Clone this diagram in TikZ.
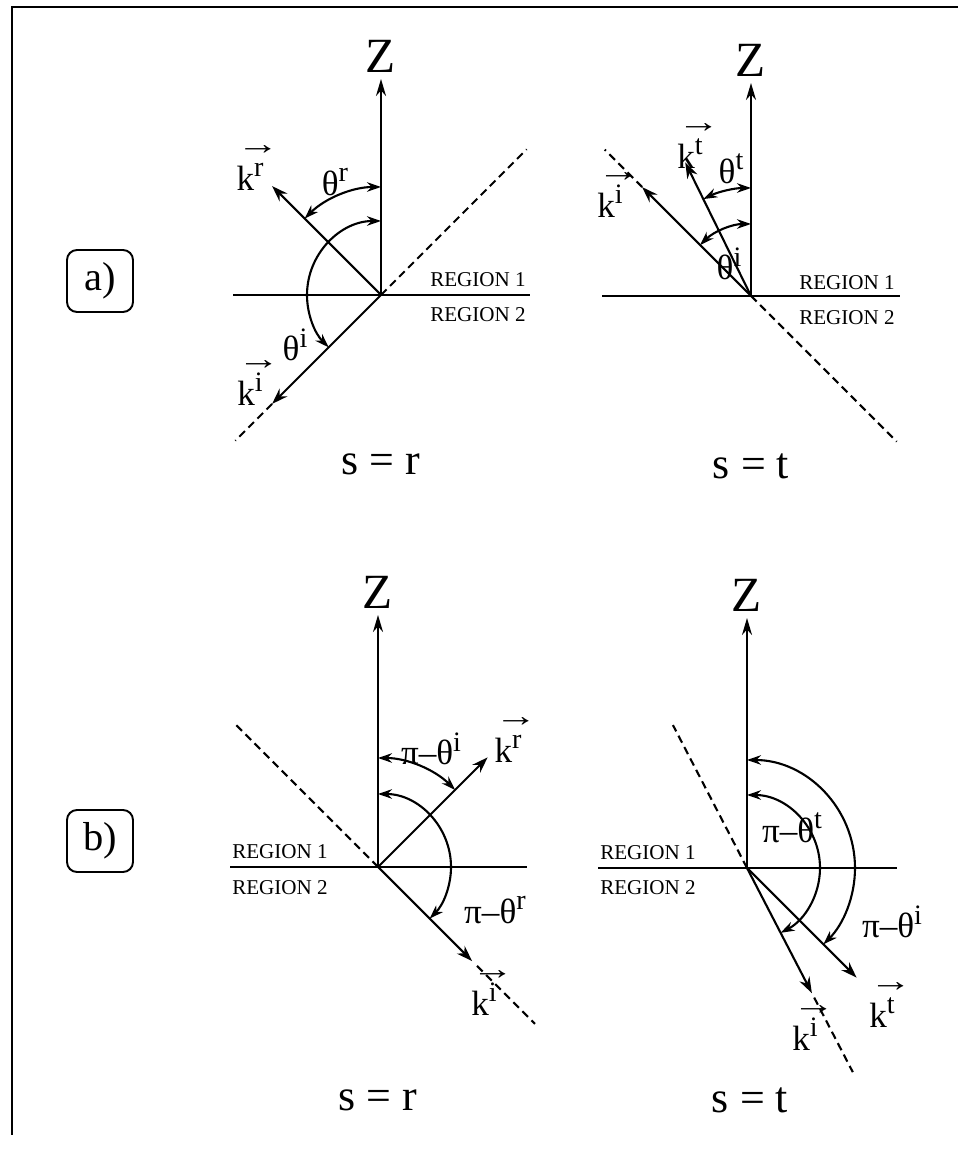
\documentclass[tikz,border=0pt]{standalone}
\usepackage{fontspec}
\setmainfont{Liberation Serif}
\usepackage{graphicx}
\usepackage{tikz}
\usetikzlibrary{arrows.meta, positioning}
\newcommand{\supx}[1]{\raisebox{0.85ex}{\fontsize{16}{16}\selectfont #1}}
\newcommand{\kvec}[1]{\makebox[0pt][l]{\raisebox{1.0em}{\scalebox{1.35}[1]{\fontsize{18}{18}\selectfont →}}}k\supx{#1}}
\tikzset{
  % Frame and labels
  framebox/.style={line width=1.6pt},
  partbox/.style={rectangle, rounded corners=2mm, draw=black, line width=1.1pt, minimum width=1.32cm, minimum height=1.24cm, text centered, font=\fontsize{23}{26}\selectfont},
  axislabel/.style={inner sep=0pt, font=\fontsize{28}{32}\selectfont},
  caselabel/.style={inner sep=0pt, font=\fontsize{25}{30}\selectfont},
  veclabel/.style={inner sep=0pt, font=\fontsize{20}{22}\selectfont},
  regionlabel/.style={inner sep=0pt, font=\fontsize{12}{14}\selectfont},
  % Lines
  surface/.style={line width=1.2pt},
  zaxis/.style={line width=1.2pt, -{Stealth[length=3.4mm, width=2mm]}},
  wavevec/.style={line width=1.2pt, -{Stealth[length=3.2mm, width=2.2mm]}},
  normalline/.style={line width=1.2pt, dash pattern=on 4.5pt off 2.8pt},
  anglearc/.style={line width=1.2pt, {Stealth[length=2.8mm, width=1.9mm]}-{Stealth[length=2.8mm, width=1.9mm]}},
}
\begin{document}
\begin{tikzpicture}[x=0.2mm, y=0.2mm]
    \useasboundingbox (0,0) rectangle (958,1152);

    % Frame
    \coordinate (fbl) at (12,17);
    \coordinate (ftl) at (12,1145);
    \coordinate (ftr) at (958,1145);
    \draw[framebox] (fbl) -- (ftl) -- (ftr);

    % Part labels
    \node[partbox] (parta) at (100,871) {a)};
    \node[partbox] (partb) at (100,311) {b)};

    % a) s = r
    \begin{scope}[shift={(381,857)}]
      \coordinate (oa) at (0,0);
      \coordinate (hla) at (-148,0);
      \coordinate (hra) at (149,0);
      \coordinate (za) at (0,216);
      \coordinate (dua) at (45:206);
      \coordinate (kra) at (135:154);
      \coordinate (kia) at (225:154);
      \coordinate (dla) at (225:206);
      \draw[surface] (hla) -- (hra);
      \draw[zaxis] (oa) -- (za);
      \draw[normalline] (oa) -- (dua);
      \draw[normalline] (kia) -- (dla);
      \draw[wavevec] (oa) -- (kra);
      \draw[wavevec] (oa) -- (kia);
      \coordinate (tra) at (90:108);
      \draw[anglearc] (tra) arc[start angle=90, end angle=135, radius=108];
      \coordinate (tia) at (90:74);
      \draw[anglearc] (tia) arc[start angle=90, end angle=225, radius=74];
      \node[axislabel, above=1.2mm of za] (zla) {Z};
      \node[veclabel] (lkra) at (-131,127) {\kvec{r}};
      \node[veclabel] (ltra) at (-46,113) {θ\supx{r}};
      \node[veclabel] (ltia) at (-86,-50) {θ\supx{i}};
      \node[veclabel] (lkia) at (-131,-88) {\kvec{i}};
      \node[regionlabel] (r1a) at (97,15) {REGION 1};
      \node[regionlabel] (r2a) at (97,-20) {REGION 2};
      \node[caselabel] (sa) at (0,-169) {s = r};
    \end{scope}

    % a) s = t
    \begin{scope}[shift={(751,856)}]
      \coordinate (ob) at (0,0);
      \coordinate (hlb) at (-149,0);
      \coordinate (hrb) at (149,0);
      \coordinate (zb) at (0,213);
      \coordinate (kib) at (135:154);
      \coordinate (dub) at (135:207);
      \coordinate (dlb) at (-45:206);
      \coordinate (ktb) at (116.2:149);
      \draw[surface] (hlb) -- (hrb);
      \draw[zaxis] (ob) -- (zb);
      \draw[normalline] (kib) -- (dub);
      \draw[normalline] (ob) -- (dlb);
      \draw[wavevec] (ob) -- (kib);
      \draw[wavevec] (ob) -- (ktb);
      \coordinate (ttb) at (90:108);
      \draw[anglearc] (ttb) arc[start angle=90, end angle=116.2, radius=108];
      \coordinate (tib) at (90:72);
      \draw[anglearc] (tib) arc[start angle=90, end angle=135, radius=72];
      \node[axislabel, above=1.2mm of zb] (zlb) {Z};
      \node[veclabel] (lkib) at (-141,101) {\kvec{i}};
      \node[veclabel] (lktb) at (-61,150) {\kvec{t}};
      \node[veclabel] (lttb) at (-20,127) {θ\supx{t}};
      \node[veclabel] (ltib) at (-22,32) {θ\supx{i}};
      \node[regionlabel] (r1b) at (96,13) {REGION 1};
      \node[regionlabel] (r2b) at (96,-22) {REGION 2};
      \node[caselabel] (sb) at (0,-170) {s = t};
    \end{scope}

    % b) s = r
    \begin{scope}[shift={(378,285)}]
      \coordinate (oc) at (0,0);
      \coordinate (hlc) at (-148,0);
      \coordinate (hrc) at (149,0);
      \coordinate (zc) at (0,252);
      \coordinate (duc) at (135:205);
      \coordinate (krc) at (45:155);
      \coordinate (kic) at (-45:133);
      \coordinate (dmc) at (-45:140);
      \coordinate (dlc) at (-45:222);
      \draw[surface] (hlc) -- (hrc);
      \draw[zaxis] (oc) -- (zc);
      \draw[normalline] (oc) -- (duc);
      \draw[normalline] (dmc) -- (dlc);
      \draw[wavevec] (oc) -- (krc);
      \draw[wavevec] (oc) -- (kic);
      \coordinate (tic) at (90:109);
      \draw[anglearc] (tic) arc[start angle=90, end angle=45, radius=109];
      \coordinate (trc) at (90:73);
      \draw[anglearc] (trc) arc[start angle=90, end angle=-45, radius=73];
      \node[axislabel, above=1.2mm of zc] (zlc) {Z};
      \node[veclabel] (lkrc) at (130,127) {\kvec{r}};
      \node[veclabel] (ltic) at (53,118) {π–θ\supx{i}};
      \node[veclabel] (ltrc) at (117,-43) {π–θ\supx{r}};
      \node[veclabel] (lkic) at (106,-126) {\kvec{i}};
      \node[regionlabel] (r1c) at (-98,15) {REGION 1};
      \node[regionlabel] (r2c) at (-98,-21) {REGION 2};
      \node[caselabel] (sc) at (0,-233) {s = r};
    \end{scope}

    % b) s = t
    \begin{scope}[shift={(747,284)}]
      \coordinate (od) at (0,0);
      \coordinate (hld) at (-149,0);
      \coordinate (hrd) at (150,0);
      \coordinate (zd) at (0,250);
      \coordinate (dud) at (117.4:161);
      \coordinate (kid) at (-62.6:141);
      \coordinate (dmd) at (-62.6:146);
      \coordinate (dld) at (-62.6:230);
      \coordinate (ktd) at (-45:155);
      \draw[surface] (hld) -- (hrd);
      \draw[zaxis] (od) -- (zd);
      \draw[normalline] (od) -- (dud);
      \draw[normalline] (dmd) -- (dld);
      \draw[wavevec] (od) -- (kid);
      \draw[wavevec] (od) -- (ktd);
      \coordinate (ttd) at (90:73);
      \draw[anglearc] (ttd) arc[start angle=90, end angle=-62.6, radius=73];
      \coordinate (tid) at (90:108);
      \draw[anglearc] (tid) arc[start angle=90, end angle=-45, radius=108];
      \node[axislabel, above=1.2mm of zd] (zld) {Z};
      \node[veclabel] (lkid) at (58,-160) {\kvec{i}};
      \node[veclabel] (lktd) at (135,-137) {\kvec{t}};
      \node[veclabel] (lttd) at (45,40) {π–θ\supx{t}};
      \node[veclabel] (ltid) at (145,-54) {π–θ\supx{i}};
      \node[regionlabel] (r1d) at (-99,15) {REGION 1};
      \node[regionlabel] (r2d) at (-99,-20) {REGION 2};
      \node[caselabel] (sd) at (3,-232) {s = t};
    \end{scope}
\end{tikzpicture}
\end{document}
